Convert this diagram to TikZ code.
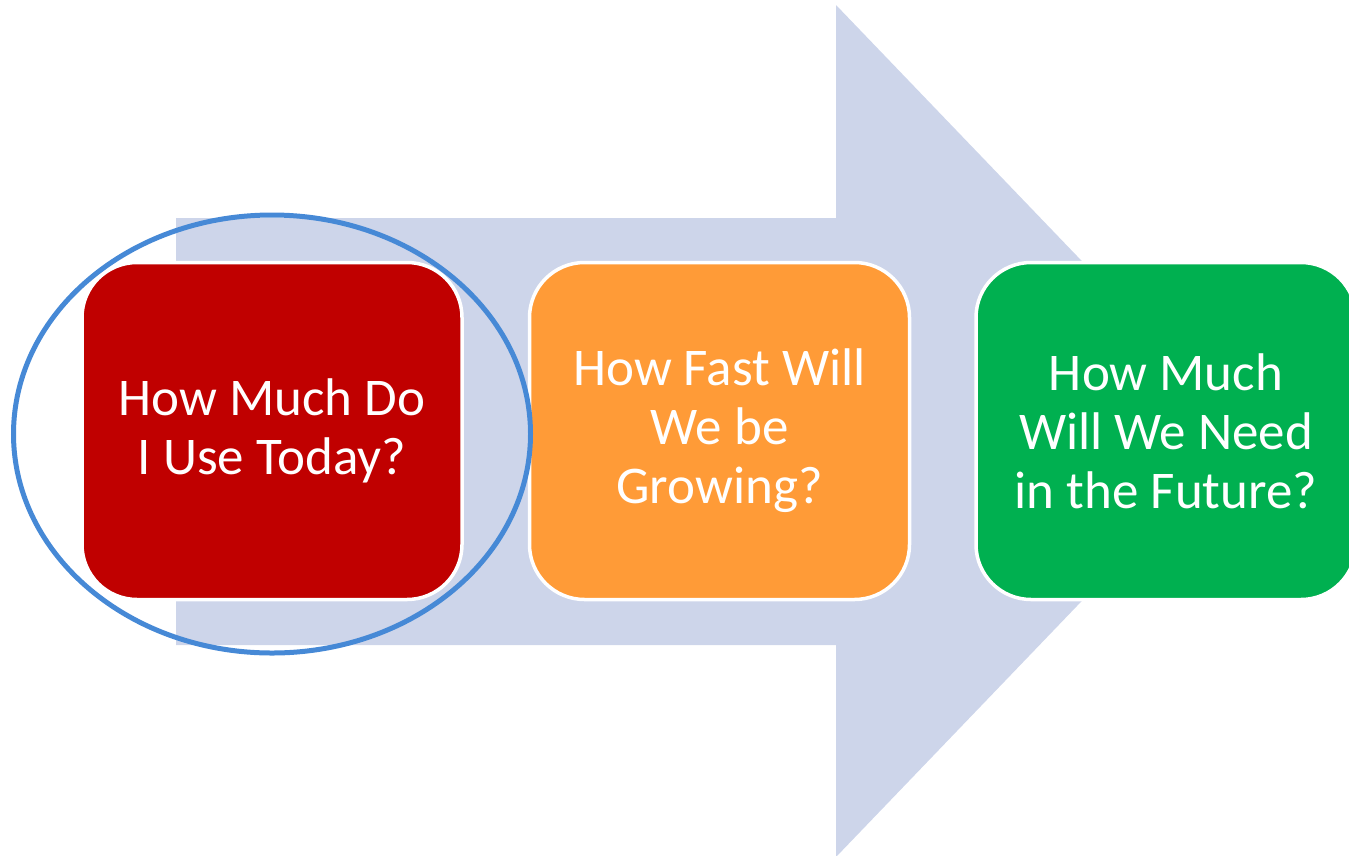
\documentclass[tikz,border=0pt]{standalone}
\usepackage{fontspec}
\setmainfont{Carlito}
\usetikzlibrary{positioning, shapes.geometric}

\definecolor{arrowBlue}{HTML}{CDD5EA}
\definecolor{boxRed}{HTML}{C00000}
\definecolor{boxOrange}{HTML}{FF9B37}
\definecolor{boxGreen}{HTML}{00B050}
\definecolor{ringBlue}{HTML}{4689D6}

\begin{document}
\begin{tikzpicture}[x=1pt, y=-1pt, every node/.style={rounded corners=55pt, draw=white, line width=3.5pt, align=center, text=white, minimum width=380pt, minimum height=337pt, font=\fontsize{53}{59}\selectfont}]

    \useasboundingbox (0,0) rectangle (1349,855);

    % Background arrow
    \fill[arrowBlue] (176,218) -- (836,218) -- (836,5) -- (1245,431) -- (836,857) -- (836,645) -- (176,645) -- cycle;

    % Nodes
    \node (useToday) [fill=boxRed] at (272,431) {How Much Do\\I Use Today?};
    \node (growRate) [right=64pt of useToday, fill=boxOrange] {How Fast Will\\We be\\Growing?};
    \node (futureNeed) [right=63pt of growRate, fill=boxGreen] {How Much\\Will We Need\\in the Future?};

    % Highlight
    \node (focus) [ellipse, sharp corners, draw=ringBlue, line width=5pt, minimum width=517pt, minimum height=438pt] at (272,434) {};
\end{tikzpicture}
\end{document}
